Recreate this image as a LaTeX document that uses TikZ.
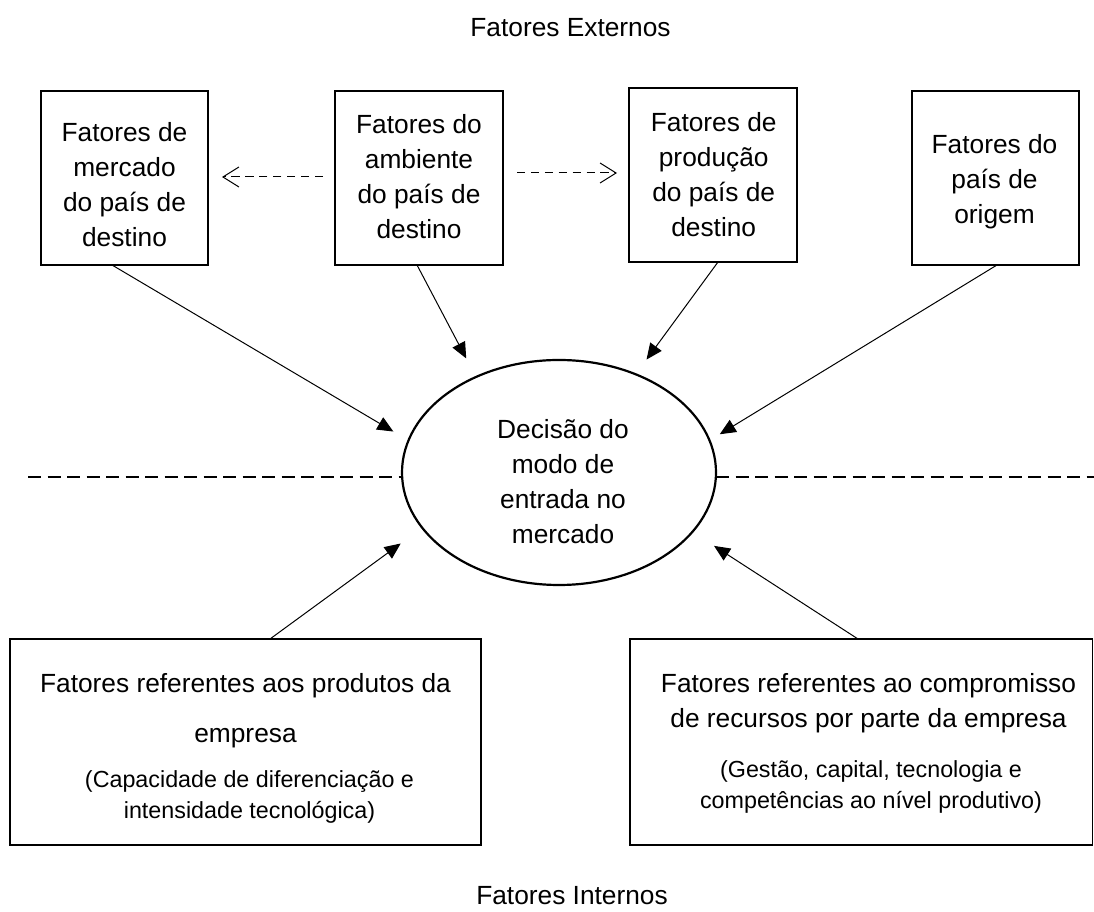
\documentclass[tikz,border=0pt]{standalone}
\usepackage{fontspec}
\setmainfont{Liberation Sans}
\usetikzlibrary{arrows.meta,calc,shapes.geometric}
\begin{document}
\begin{tikzpicture}[x=1pt,y=1pt,
  fbox/.style={draw, line width=1.3pt, inner sep=0pt, outer sep=0pt},
  maintxt/.style={font=\fontsize{26.3}{35}\selectfont, align=center, inner sep=0pt, outer sep=0pt},
  smalltxt/.style={font=\fontsize{23.3}{31}\selectfont, align=center, inner sep=0pt, outer sep=0pt},
  arr/.style={line width=1pt, -{Triangle[length=16pt,width=14pt]}},
  darr/.style={line width=1pt, dash pattern=on 8.3pt off 5.6pt, -{Straight Barb[length=16pt,width=20pt]}},
  sepline/.style={line width=1.2pt, dash pattern=on 13pt off 6.5pt}]
\useasboundingbox (0,0) rectangle (1094,912);

% titles
\node[maintxt, anchor=base] (ext) at (570.5,875) {Fatores Externos};
\node[maintxt, anchor=base] (int) at (572,7) {Fatores Internos};

% top boxes
\node[fbox, minimum width=167pt, minimum height=174pt] (b1) at (124.5,734) {};
\node[fbox, minimum width=168pt, minimum height=174pt] (b2) at (419,734) {};
\node[fbox, minimum width=168pt, minimum height=174pt] (b3) at (713,737) {};
\node[fbox, minimum width=167pt, minimum height=174pt] (b4) at (995.5,734) {};

\node[maintxt] (t1) at (124.5,727.3) {Fatores de\\mercado\\do país de\\destino};
\node[maintxt] (t2) at (419,735) {Fatores do\\ambiente\\do país de\\destino};
\node[maintxt] (t3) at (713.7,737) {Fatores de\\produção\\do país de\\destino};
\node[maintxt] (t4) at (994.5,730.5) {Fatores do\\país de\\origem};

% ellipse
\node[ellipse, draw, line width=2.2pt, minimum width=314pt, minimum height=225pt, inner sep=0pt, outer sep=0pt] (e) at (559,439.5) {};
\node[maintxt] (te) at (563,430.7) {Decisão do\\modo de\\entrada no\\mercado};

% separator
\coordinate (dl) at (28,435);
\coordinate (dr) at (1094,435);
\draw[sepline] (dl) -- (dl -| e.west);
\draw[sepline] (dr -| e.east) -- (dr);

% bottom boxes
\node[fbox, minimum width=471pt, minimum height=206pt] (bl) at (245.5,170) {};
\node[fbox, minimum width=462.5pt, minimum height=206pt] (br) at (861.25,170) {};

\node[maintxt] (blm) at (245.5,201.75) {Fatores referentes aos produtos da\\[15pt]empresa};
\node[smalltxt] (blp) at (249.5,114.6) {(Capacidade de diferenciação e\\intensidade tecnológica)};
\node[maintxt] (brm) at (868.5,209.25) {Fatores referentes ao compromisso\\de recursos por parte da empresa};
\node[smalltxt] (brp) at (871,125.5) {(Gestão, capital, tecnologia e\\competências ao nível produtivo)};

% dashed arrows between top boxes
\draw[darr] ($(b2.west)+(-12,1)$) -- ($(b1.east)+(14,1)$);
\draw[darr] ($(b2.east)+(14,5)$) -- ($(b3.west)+(-12,2)$);

% arrows to ellipse
\draw[arr, shorten >=17.6pt] ($(b1.south)+(-12.5,0)$) -- (e.168.2);
\draw[arr, shorten >=21pt] ($(b2.south)+(-2,0)$) -- (e.131.7);
\draw[arr, shorten >=18.3pt] ($(b3.south)+(5,0)$) -- (e.52.9);
\draw[arr, shorten >=12pt] ($(b4.south)+(1.5,0)$) -- (e.12.9);
\draw[arr, shorten >=26.7pt] ($(bl.north)+(24.5,0)$) -- (e.202.9);
\draw[arr, shorten >=25.8pt] ($(br.north)+(-3.25,0)$) -- (e.336.6);
\end{tikzpicture}
\end{document}
